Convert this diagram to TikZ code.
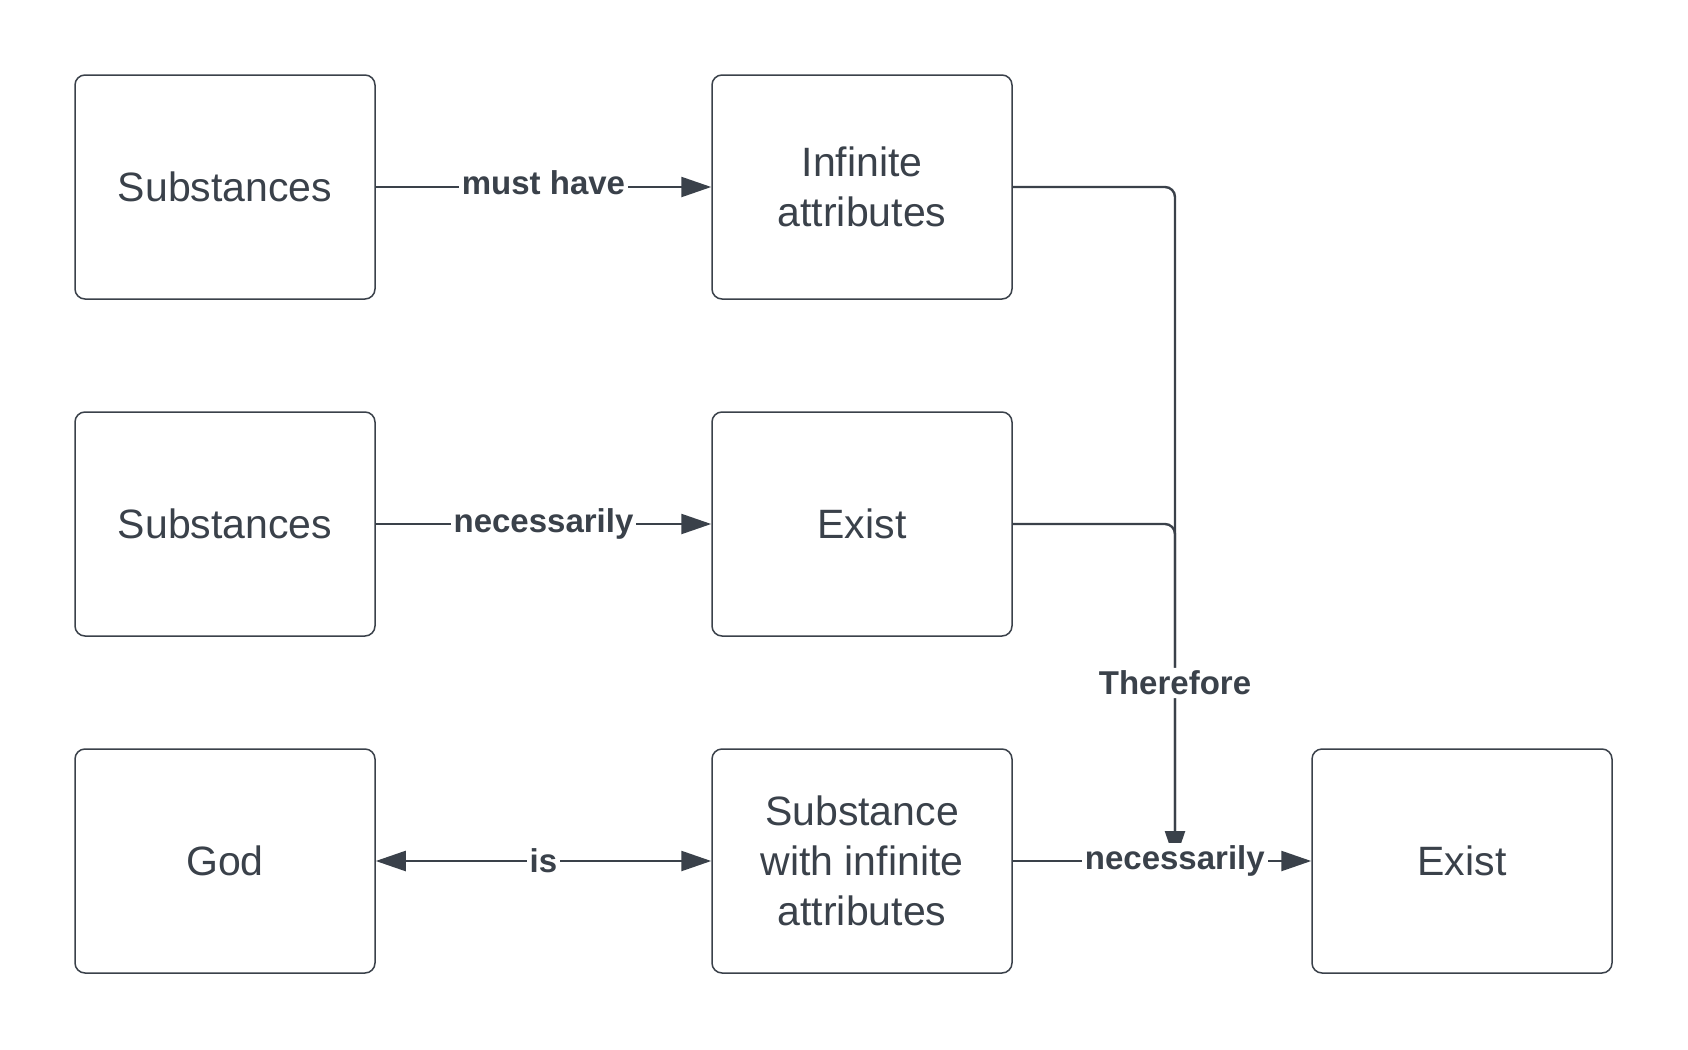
\documentclass[tikz,border=0pt]{standalone}
\usepackage{fontspec}
\setmainfont{Liberation Sans}
\usetikzlibrary{arrows.meta}
\definecolor{ink}{HTML}{3A414A}
\tikzset{
  box/.style={draw=ink, line width=0.75pt, rounded corners=5pt, minimum width=150pt, minimum height=112pt,
    align=center, text=ink, font=\fontsize{20.5}{25}\selectfont},
  link/.style={draw=ink, line width=1.2pt},
  lbl/.style={fill=white, text=ink, inner sep=1.5pt, font=\bfseries\fontsize{16.5}{20}\selectfont},
  >={Triangle[length=15pt,width=10pt]}
}

\begin{document}
\begin{tikzpicture}[x=0.5pt,y=-0.5pt]
\useasboundingbox (0,0) rectangle (1688,1050);

\node[box] (sub1) at (225,187) {Substances};
\node[box] (inf) at (862,187) {Infinite\\attributes};
\node[box] (sub2) at (225,524) {Substances};
\node[box] (ex1) at (862,524) {Exist};
\node[box] (god) at (225,861) {God};
\node[box] (swia) at (862,861) {Substance\\with infinite\\attributes};
\node[box] (ex2) at (1462,861) {Exist};
\coordinate (drop) at (1175,861);

\draw[link,->] (sub1) -- node[lbl,yshift=2pt] {must have} (inf);
\draw[link,->] (sub2) -- node[lbl] {necessarily} (ex1);
\draw[link,<->] (god) -- node[lbl] {is} (swia);

\draw[link,rounded corners=5pt] (ex1.east) -| (drop);
\draw[link,rounded corners=5pt,->] (inf.east) -| node[lbl,pos=0.868] {Therefore} (drop);
\draw[link,->] (swia) -- node[lbl,pos=0.543] {necessarily} (ex2);
\end{tikzpicture}
\end{document}
